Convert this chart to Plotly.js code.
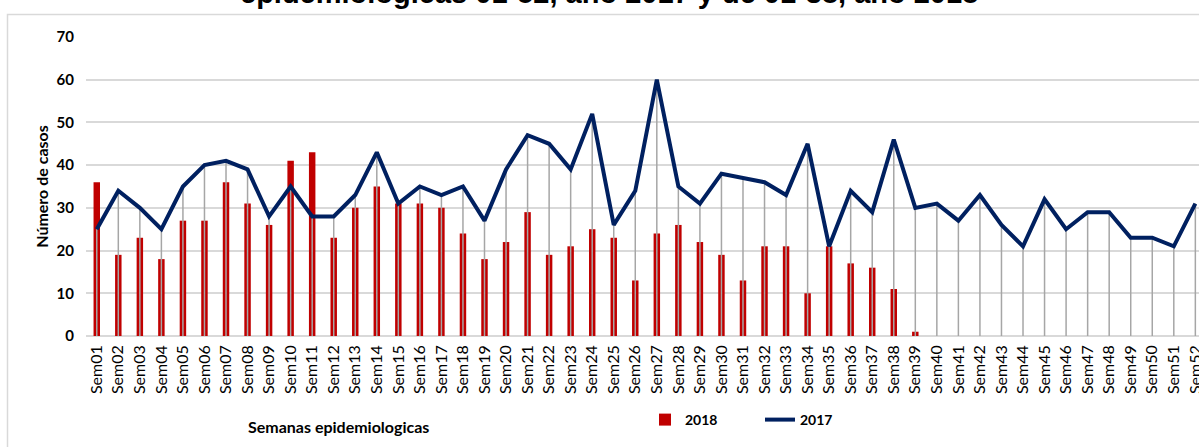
<!DOCTYPE html>
<html>
<head>
<meta charset="utf-8">
<script src="https://cdn.plot.ly/plotly-3.0.1.min.js"></script>
<style>
  html, body { margin: 0; padding: 0; background: #fff; }
  #chart { width: 1199px; height: 447px; }
</style>
</head>
<body>
<div id="chart"></div>
<script>
// Semanas epidemiologicas
const weeks = [
  'Sem01','Sem02','Sem03','Sem04','Sem05','Sem06','Sem07','Sem08','Sem09','Sem10',
  'Sem11','Sem12','Sem13','Sem14','Sem15','Sem16','Sem17','Sem18','Sem19','Sem20',
  'Sem21','Sem22','Sem23','Sem24','Sem25','Sem26','Sem27','Sem28','Sem29','Sem30',
  'Sem31','Sem32','Sem33','Sem34','Sem35','Sem36','Sem37','Sem38','Sem39','Sem40',
  'Sem41','Sem42','Sem43','Sem44','Sem45','Sem46','Sem47','Sem48','Sem49','Sem50',
  'Sem51','Sem52'
];

// cases 2017 (line)
const cases2017 = [
  25, 34, 30, 25, 35, 40, 41, 39, 28, 35,
  28, 28, 33, 43, 31, 35, 33, 35, 27, 39,
  47, 45, 39, 52, 26, 34, 60, 35, 31, 38,
  37, 36, 33, 45, 21, 34, 29, 46, 30, 31,
  27, 33, 26, 21, 32, 25, 29, 29, 23, 23,
  21, 31
];

// cases 2018 (bars), weeks 01-39
const weeks2018 = weeks.slice(0, 39);
const cases2018 = [
  36, 19, 23, 18, 27, 27, 36, 31, 26, 41,
  43, 23, 30, 35, 31, 31, 30, 24, 18, 22,
  29, 19, 21, 25, 23, 13, 24, 26, 22, 19,
  13, 21, 21, 10, 21, 17, 16, 11, 1
];

const yTicks = [0, 10, 20, 30, 40, 50, 60, 70];

// drop lines from the 2017 line down to the axis
const dropX = [];
const dropY = [];
weeks.forEach((w, i) => {
  dropX.push(w, w, null);
  dropY.push(0, cases2017[i], null);
});

const bars2018 = {
  type: 'bar',
  x: weeks2018,
  y: cases2018,
  name: '2018',
  width: 0.3,
  marker: { color: '#c00000' },
  hoverinfo: 'x+y'
};

const drops = {
  type: 'scatter',
  mode: 'lines',
  x: dropX,
  y: dropY,
  line: { color: '#a6a6a6', width: 1.5 },
  showlegend: false,
  hoverinfo: 'skip'
};

const line2017 = {
  type: 'scatter',
  mode: 'lines',
  x: weeks,
  y: cases2017,
  name: '2017',
  line: { color: '#002060', width: 4 },
  hoverinfo: 'x+y'
};

// pixel helpers for the plot box (l=86, t=37, w=1113, h=299)
const px = v => (v - 86) / 1113;
const py = v => (336 - v) / 299;

const layout = {
  width: 1199,
  height: 447,
  margin: { l: 86, r: 0, t: 37, b: 111 },
  paper_bgcolor: '#fff',
  plot_bgcolor: '#fff',
  font: { family: 'Lato, "DejaVu Sans", sans-serif', color: '#000' },
  showlegend: true,
  legend: {
    orientation: 'h',
    x: px(645),
    y: py(420),
    xanchor: 'left',
    yanchor: 'middle',
    entrywidth: 70,
    font: { size: 14, family: 'Lato', weight: 'bold', color: '#000' },
    traceorder: 'normal',
    bgcolor: 'rgba(0,0,0,0)'
  },
  xaxis: {
    type: 'category',
    range: [-0.5, 51.17],
    tickangle: -90,
    tickfont: { size: 16, family: 'Lato', color: '#000' },
    showgrid: false,
    showline: false,
    ticks: '',
    ticklabelstandoff: 5,
    fixedrange: true
  },
  yaxis: {
    range: [0, 70],
    tickvals: yTicks,
    tickfont: { size: 15, family: 'Lato', weight: 'bold', color: '#000' },
    showgrid: true,
    gridcolor: '#d9d9d9',
    gridwidth: 1.5,
    zeroline: true,
    zerolinecolor: '#d9d9d9',
    zerolinewidth: 1.5,
    showline: false,
    ticks: '',
    ticklabelstandoff: 11,
    title: {
      text: 'Número de casos',
      font: { size: 16, family: 'Lato', weight: 'bold', color: '#000' },
      standoff: 3
    },
    fixedrange: true
  },
  annotations: [
    {
      text: 'epidemiologicas 01-52, año 2017 y de 01-38, año 2018',
      xref: 'paper', yref: 'paper',
      x: px(609), y: py(-7),
      xanchor: 'center', yanchor: 'middle',
      showarrow: false,
      font: { size: 29, family: '"Liberation Sans", Arial, sans-serif', weight: 'bold', color: '#000' }
    },
    {
      text: 'Semanas epidemiologicas',
      xref: 'paper', yref: 'paper',
      x: px(338), y: py(426),
      xanchor: 'center', yanchor: 'middle',
      showarrow: false,
      font: { size: 16, family: 'Lato', weight: 'bold', color: '#000' }
    }
  ],
  shapes: [
    {
      type: 'rect',
      xref: 'paper', yref: 'paper',
      x0: px(7.5), x1: px(1260),
      y0: py(14.5), y1: py(500),
      line: { color: '#d9d9d9', width: 1.5 },
      layer: 'below'
    }
  ]
};

Plotly.newPlot('chart', [bars2018, drops, line2017], layout, {
  displayModeBar: false,
  responsive: false
});
</script>
</body>
</html>
